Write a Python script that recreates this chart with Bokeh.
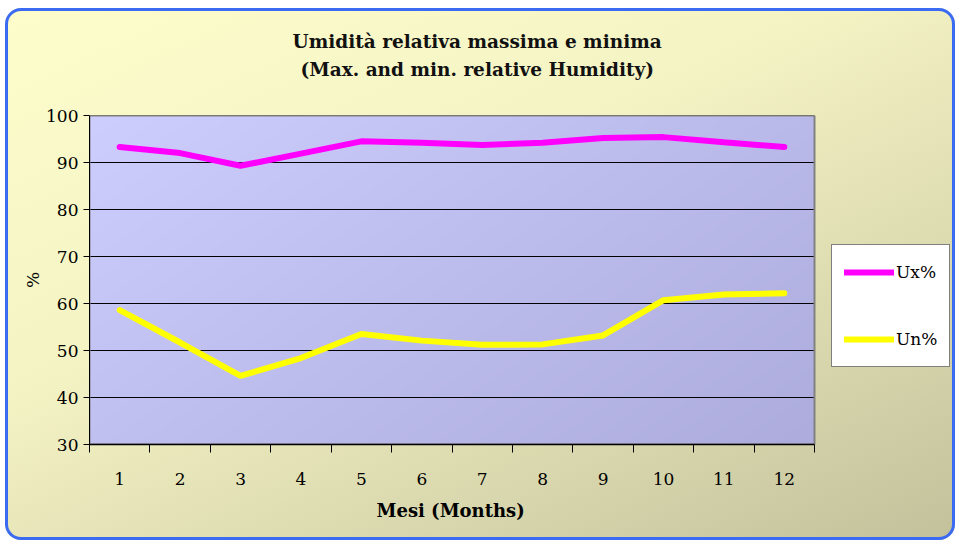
import numpy as np
from bokeh.plotting import figure
from bokeh.models import Range1d, FixedTicker, Legend, LegendItem, Title
from bokeh.embed import file_html
from bokeh.resources import INLINE

months = list(range(1, 13))
month_labels = [str(m) for m in months]
ux = [93.3, 92.0, 89.3, 91.9, 94.5, 94.2, 93.7, 94.2, 95.2, 95.4, 94.3, 93.3]
un = [58.6, 51.7, 44.6, 48.4, 53.5, 52.1, 51.2, 51.3, 53.2, 60.7, 61.9, 62.2]
y_ticks = [30, 40, 50, 60, 70, 80, 90, 100]
title_lines = ["Umidità  relativa  massima e minima", "(Max. and min. relative Humidity)"]
x_title = "Mesi (Months)"
y_title = "%"

FONT = "DejaVu Serif"
X0, X1 = months[0] - 0.5, months[-1] + 0.5
Y0, Y1 = y_ticks[0], y_ticks[-1]
# the frame also hosts the legend, to the right of the plotting area
X_EXTRA = 138 / (725 / (X1 - X0))

p = figure(width=950, height=532, output_backend="svg", toolbar_location=None,
           x_range=Range1d(X0, X1 + X_EXTRA), y_range=Range1d(Y0, Y1),
           min_border_left=84, min_border_right=3, min_border_top=107,
           min_border_bottom=96, title=None)
p.margin = (8, 0, 0, 5)

p.border_fill_alpha = 0
p.background_fill_alpha = 0
p.outline_line_color = None
p.styles = {
    "background-image": "linear-gradient(155deg, #fdfdcc 0%, #f4f3c4 40%, #c3c19b 100%)",
    "border-radius": "16px",
    "box-shadow": "inset 0 0 0 3px #3a6bf2",
}

# plot-area gradient
n = 200
gx, gy = np.meshgrid(np.linspace(0, 1, n), np.linspace(0, 1, n))
t = np.clip((gx * 0.6 + (1 - gy) * 0.4), 0, 1)
c0 = np.array([205, 206, 253])
c1 = np.array([173, 172, 221])
r = (c0[0] + (c1[0] - c0[0]) * t).astype(np.uint32)
g = (c0[1] + (c1[1] - c0[1]) * t).astype(np.uint32)
b = (c0[2] + (c1[2] - c0[2]) * t).astype(np.uint32)
img = (255 << 24) | (b << 16) | (g << 8) | r
p.image_rgba(image=[img.astype(np.uint32)], x=X0, y=Y0, dw=X1 - X0, dh=Y1 - Y0)

# horizontal gridlines limited to the plotting area
p.segment(x0=[X0] * len(y_ticks), x1=[X1] * len(y_ticks), y0=y_ticks, y1=y_ticks,
          line_color="#000000", line_width=1.2)
# plot-area outline
p.quad(left=[X0], right=[X1], bottom=[Y0], top=[Y1], fill_alpha=0,
       line_color="#808080", line_width=2)

# two-line title (added nearest-first)
spacer = Title(text=" ", text_font=FONT, text_font_size="19px")
t2 = Title(text=title_lines[1], align="left", offset=211,
           text_font=FONT, text_font_size="18.5px", text_font_style="bold",
           text_color="#111111", standoff=4)
t1 = Title(text=title_lines[0], align="left", offset=203,
           text_font=FONT, text_font_size="18.5px", text_font_style="bold",
           text_color="#111111", standoff=5)
p.add_layout(spacer, "above")
p.add_layout(t2, "above")
p.add_layout(t1, "above")

l1 = p.line(months, ux, line_color="#ff00ff", line_width=6, line_cap="round")
l2 = p.line(months, un, line_color="#ffff00", line_width=6, line_cap="round")

# axes
p.xgrid.visible = False
p.ygrid.visible = False

p.yaxis.ticker = FixedTicker(ticks=y_ticks)
p.yaxis.axis_line_color = "#000000"
p.yaxis.major_tick_line_color = "#000000"
p.yaxis.major_tick_out = 6
p.yaxis.major_tick_in = 0
p.yaxis.minor_tick_line_color = None
p.yaxis.major_label_text_font = FONT
p.yaxis.major_label_text_font_size = "17px"
p.yaxis.major_label_text_color = "#000000"
p.yaxis.major_label_standoff = 5
p.yaxis.axis_label = y_title
p.yaxis.axis_label_text_font = FONT
p.yaxis.axis_label_text_font_size = "17px"
p.yaxis.axis_label_text_font_style = "normal"
p.yaxis.axis_label_text_color = "#000000"
p.yaxis.axis_label_standoff = 0

p.xaxis.bounds = (X0, X1)
p.xaxis.ticker = FixedTicker(ticks=months, minor_ticks=[m - 0.5 for m in months] + [X1])
p.xaxis.major_label_overrides = {m: s for m, s in zip(months, month_labels)}
p.xaxis.axis_line_color = "#000000"
p.xaxis.axis_line_width = 1.5
p.xaxis.major_tick_line_color = None
p.xaxis.major_tick_out = 0
p.xaxis.major_tick_in = 0
p.xaxis.minor_tick_line_color = "#000000"
p.xaxis.minor_tick_out = 8
p.xaxis.minor_tick_in = 0
p.xaxis.major_label_text_font = FONT
p.xaxis.major_label_text_font_size = "17px"
p.xaxis.major_label_text_color = "#000000"
p.xaxis.major_label_standoff = 20

# x-axis title centred under the plotting area (not the whole frame)
xt = Title(text=x_title, align="left", offset=287,
           text_font=FONT, text_font_size="18px", text_font_style="bold",
           text_color="#000000", standoff=21)
p.add_layout(xt, "below")

legend = Legend(items=[LegendItem(label="Ux%", renderers=[l1]),
                       LegendItem(label="Un%", renderers=[l2])],
                location=(742, 77), orientation="vertical")
legend.background_fill_color = "#ffffff"
legend.background_fill_alpha = 1
legend.border_line_color = "#000000"
legend.border_line_width = 1.2
legend.label_text_font = FONT
legend.label_text_font_size = "17px"
legend.label_text_color = "#000000"
legend.label_standoff = 2
legend.glyph_width = 50
legend.glyph_height = 30
legend.label_height = 30
legend.spacing = 37
legend.padding = 12
legend.margin = 0
p.add_layout(legend, "center")

open("out.html", "w").write(file_html(p, INLINE))
